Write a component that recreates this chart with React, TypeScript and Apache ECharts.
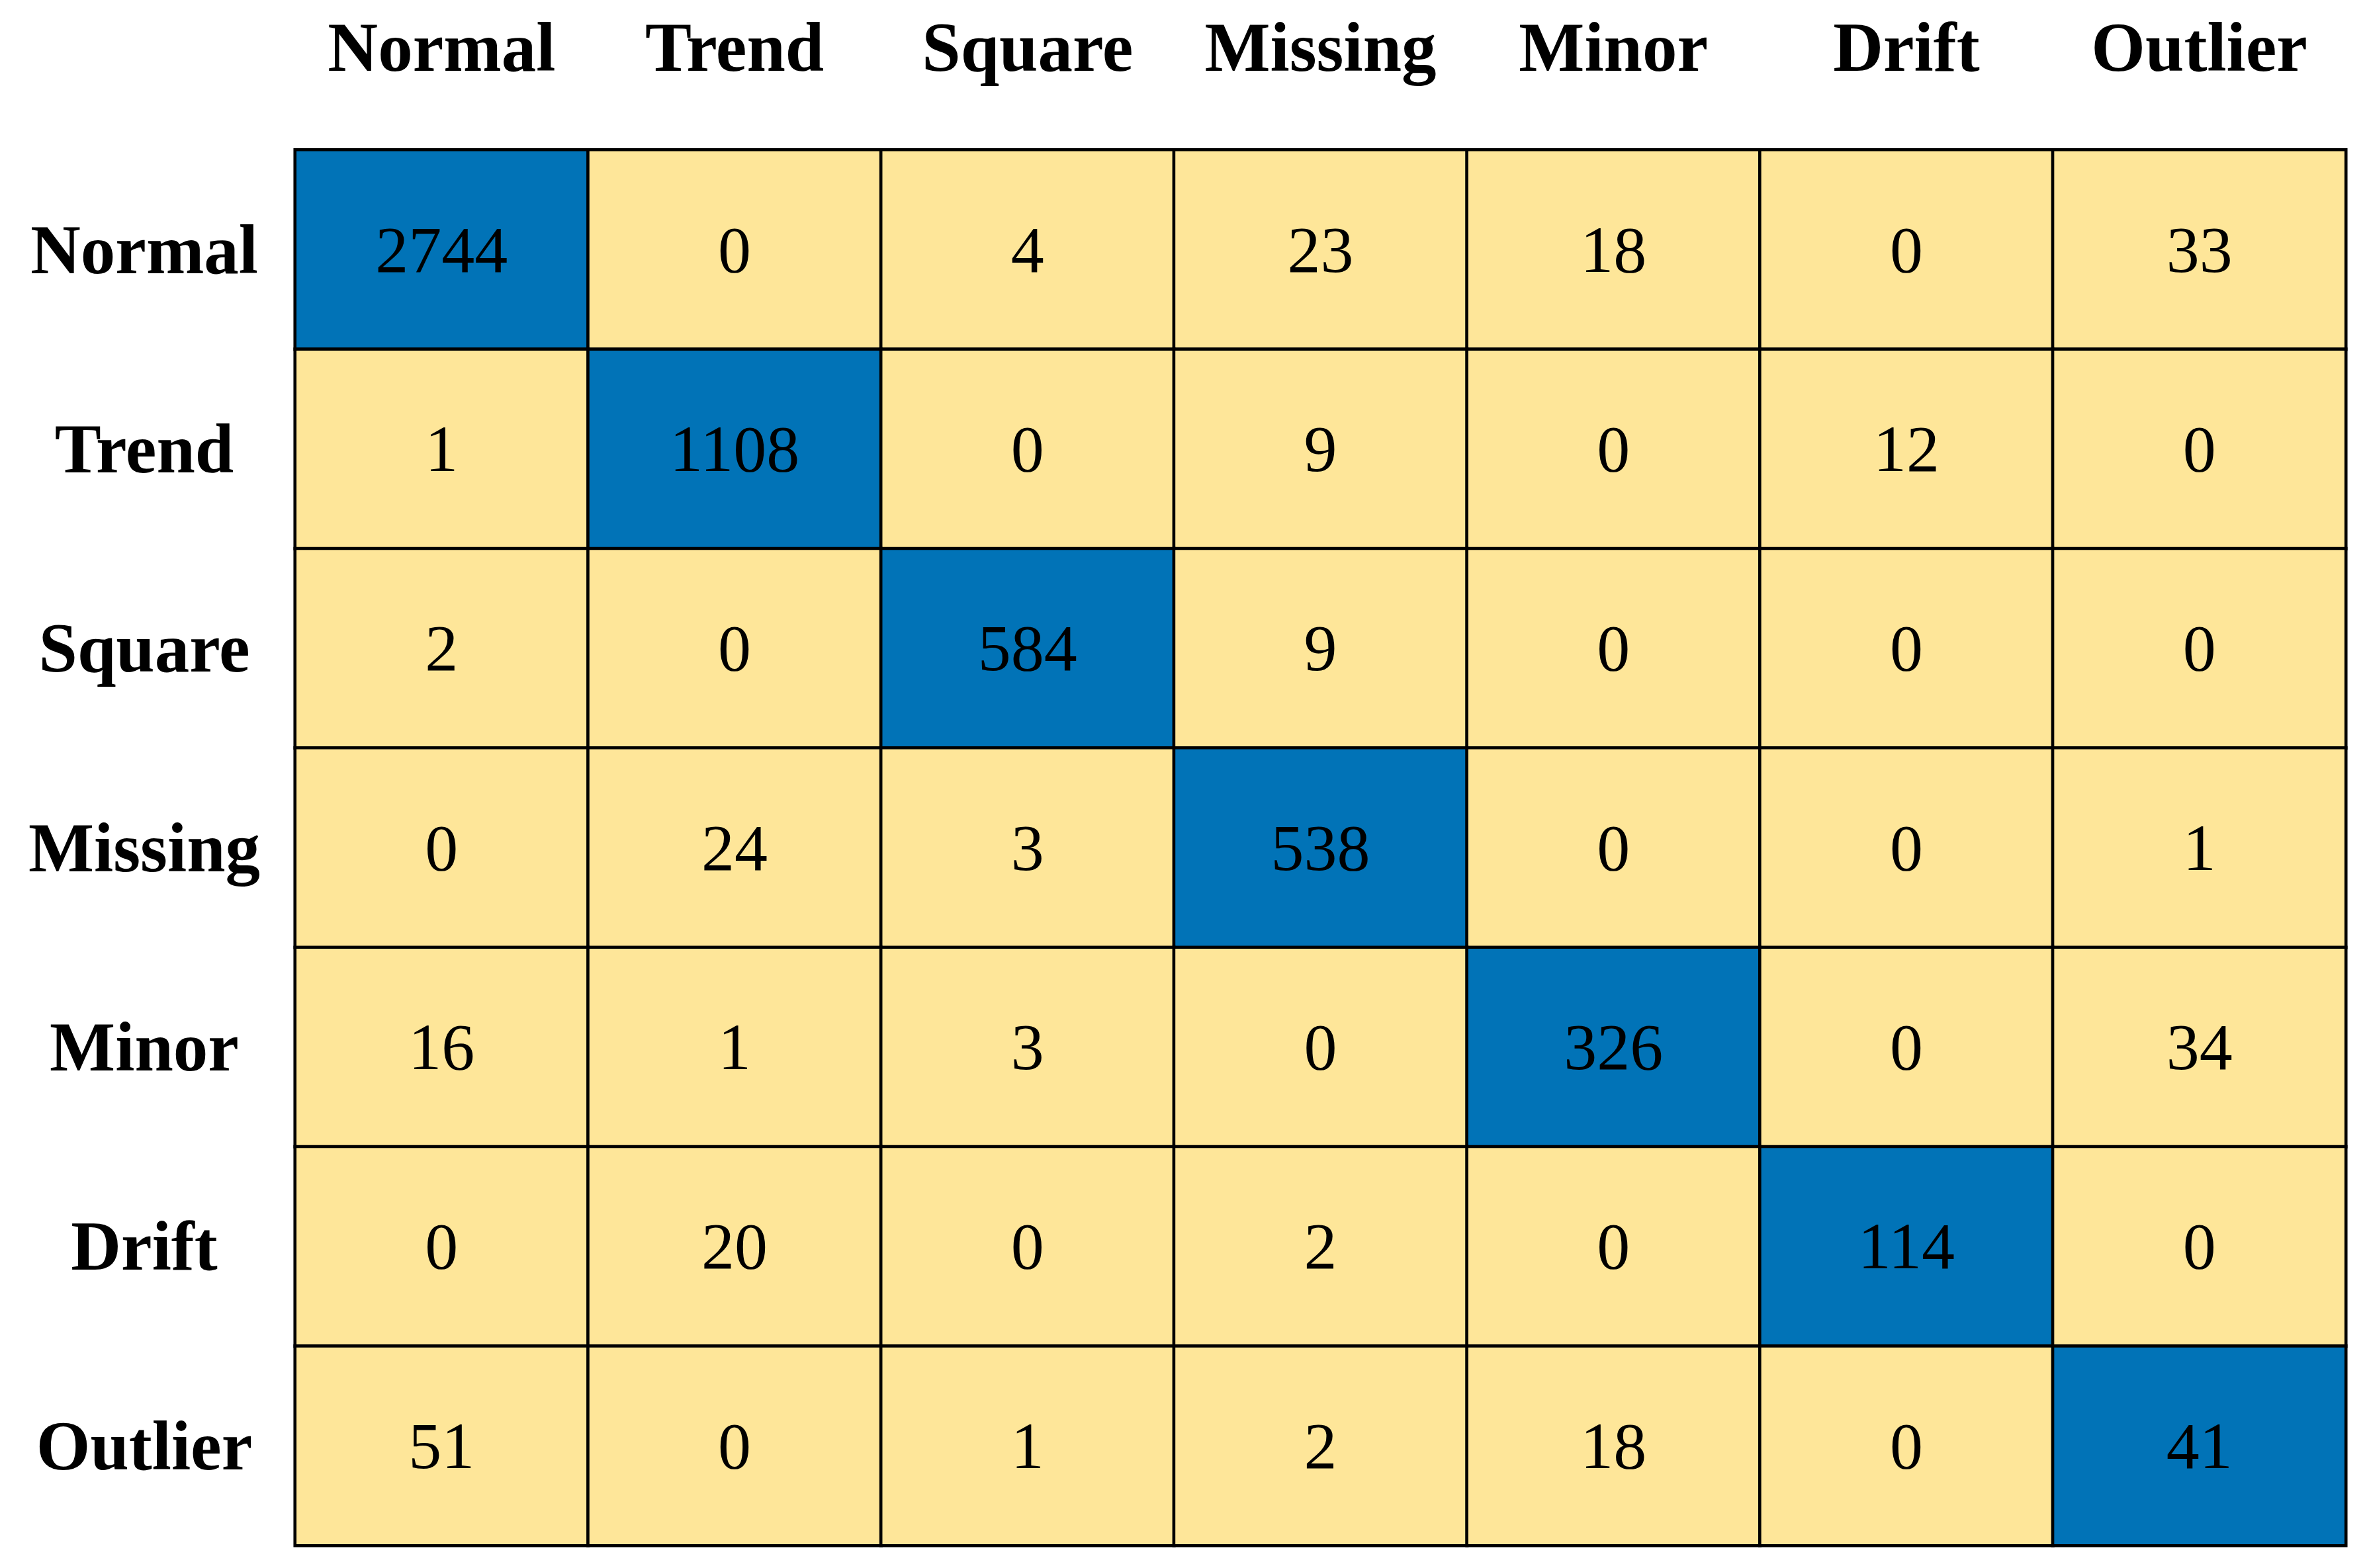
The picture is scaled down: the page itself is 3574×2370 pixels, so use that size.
import React, { useEffect, useRef } from "react";
import * as echarts from "echarts";

const classes = ["Normal", "Trend", "Square", "Missing", "Minor", "Drift", "Outlier"];

const rowNormal = [2744, 0, 4, 23, 18, 0, 33];
const rowTrend = [1, 1108, 0, 9, 0, 12, 0];
const rowSquare = [2, 0, 584, 9, 0, 0, 0];
const rowMissing = [0, 24, 3, 538, 0, 0, 1];
const rowMinor = [16, 1, 3, 0, 326, 0, 34];
const rowDrift = [0, 20, 0, 2, 0, 114, 0];
const rowOutlier = [51, 0, 1, 2, 18, 0, 41];

const matrix = [rowNormal, rowTrend, rowSquare, rowMissing, rowMinor, rowDrift, rowOutlier];

const BLUE = "#0173B7";
const YELLOW = "#FEE699";
const FONT = "'Liberation Serif', 'Times New Roman', serif";

export default function App() {
  const ref = useRef<HTMLDivElement>(null);

  useEffect(() => {
    document.body.style.margin = "0";
    document.body.style.overflow = "hidden";
    if (!ref.current) return;
    const chart = echarts.init(ref.current, null, { renderer: "svg" });

    const data: any[] = [];
    matrix.forEach((row, r) => {
      row.forEach((v, c) => {
        data.push([c, r, v, r === c ? 1 : 0]);
      });
    });

    chart.setOption({
      animation: false,
      backgroundColor: "#ffffff",
      grid: { left: 446, right: 29, top: 226.5, bottom: 34, containLabel: false },
      xAxis: {
        type: "category",
        data: classes,
        position: "top",
        axisLine: { show: false },
        axisTick: { show: false },
        splitLine: { show: false },
        axisLabel: {
          fontFamily: FONT,
          fontWeight: "bold",
          fontSize: 105,
          color: "#000",
          margin: 155,
          verticalAlign: "middle",
          interval: 0,
        },
      },
      yAxis: {
        type: "category",
        data: classes,
        inverse: true,
        axisLine: { show: false },
        axisTick: { show: false },
        splitLine: { show: false },
        axisLabel: {
          fontFamily: FONT,
          fontWeight: "bold",
          fontSize: 105,
          color: "#000",
          margin: 228,
          align: "center",
          verticalAlign: "middle",
          interval: 0,
        },
      },
      visualMap: {
        type: "piecewise",
        show: false,
        dimension: 3,
        seriesIndex: 0,
        pieces: [
          { value: 1, color: BLUE },
          { value: 0, color: YELLOW },
        ],
      },
      series: [
        {
          type: "heatmap",
          data,
          itemStyle: { borderColor: "#000", borderWidth: 4.6 },
          label: {
            show: true,
            fontFamily: FONT,
            fontSize: 100,
            color: "#000",
            formatter: (p: any) => String(p.value[2]),
          },
          emphasis: { disabled: true },
        },
      ],
    });

    return () => chart.dispose();
  }, []);

  return <div ref={ref} style={{ width: 3574, height: 2370 }} />;
}
